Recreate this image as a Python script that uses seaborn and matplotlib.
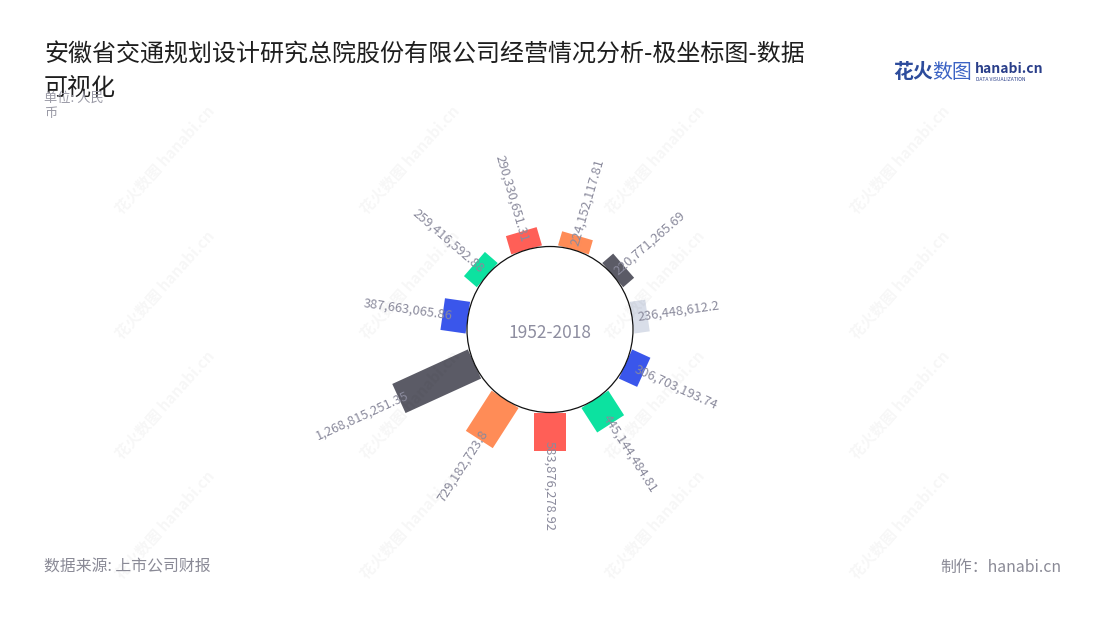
import matplotlib
matplotlib.use("Agg")
import numpy as np
import matplotlib.pyplot as plt
import seaborn as sns
from matplotlib.patches import Rectangle, Circle
from matplotlib.transforms import Affine2D

# ---------------- data ----------------
values = [224152117.81, 220771265.69, 236448612.2, 306703193.74, 445144484.81,
          583876278.92, 729182723.8, 1268815251.35, 387663065.86, 259416592.88,
          290330651.31]
value_labels = [f"{v:,}" for v in values]
bar_colors = ["#FF8C57", "#5B5B66", "#D9DEE9", "#3A56EB", "#0CE2A0",
              "#FF5F57", "#FF8C57", "#5B5B66", "#3A56EB", "#0CE2A0", "#FF5F57"]
center_label = "1952-2018"
title_line1 = "安徽省交通规划设计研究总院股份有限公司经营情况分析-极坐标图-数据"
title_line2 = "可视化"
unit_text = "单位: 人民\n币"
source_text = "数据来源: 上市公司财报"
maker_text = "制作：hanabi.cn"

# ---------------- style ----------------
sns.set_theme(style="white")
plt.rcParams["font.family"] = ["Noto Sans CJK SC", "DejaVu Sans"]
palette = sns.color_palette(bar_colors)

W, H = 1100, 620
fig = plt.figure(figsize=(W / 100, H / 100), dpi=100)
fig.patch.set_facecolor("white")

# watermarks
for wy in [160, 285, 405, 525]:
    for wx in [165, 410, 655, 900]:
        fig.text(wx / W, 1 - wy / H, "花火数图 hanabi.cn", rotation=48,
                 ha="center", va="center", fontsize=11, fontweight="bold",
                 color="#000000", alpha=0.035)

# polar-like axes in value units (1e8)
cx, cy = 550, 329.5          # centre in pixels
px_per_unit = 6.55           # pixels per 1e8
L = 36.0
S = 2 * L * px_per_unit
ax = fig.add_axes([(cx - S / 2) / W, (H - cy - S / 2) / H, S / W, S / H])
ax.set_xlim(-L, L)
ax.set_ylim(-L, L)
ax.set_aspect("equal")
ax.axis("off")

hole = 83 / px_per_unit
bar_w = 32 / px_per_unit
n = len(values)
step = 360.0 / n
label_color = "#8A8A9C"

for i, (v, lab) in enumerate(zip(values, value_labels)):
    theta = 90 - (i + 0.5) * step
    length = v / 1e8
    rect = Rectangle((hole, -bar_w / 2), length, bar_w, facecolor=palette[i],
                     edgecolor="none", zorder=2)
    rect.set_transform(Affine2D().rotate_deg(theta) + ax.transData)
    ax.add_patch(rect)
    r_lab = hole + length - 10 / px_per_unit
    t = np.deg2rad(theta)
    x, y = r_lab * np.cos(t), r_lab * np.sin(t)
    th = (theta + 180) % 360 - 180
    if -90.5 <= th <= 90:
        rot, ha = th, "left"
    else:
        rot, ha = th - 180 if th > 0 else th + 180, "right"
    ax.text(x, y, lab, rotation=rot, rotation_mode="anchor", ha=ha, va="center",
            fontsize=9.3, color=label_color, zorder=4)

ax.add_patch(Circle((0, 0), hole, facecolor="white", edgecolor="#111111",
                    linewidth=0.9, zorder=3))
ax.text(0, -0.5, center_label, ha="center", va="center", fontsize=12.5,
        color="#8E8EA0", zorder=5)

# titles
fig.text(44 / W, 1 - 55 / H, title_line1, ha="left", va="center",
         fontsize=17.3, color="#1E1E1E")
fig.text(44 / W, 1 - 88 / H, title_line2, ha="left", va="center",
         fontsize=17.3, color="#1E1E1E")
fig.text(44 / W, 1 - 106 / H, unit_text, ha="left", va="center",
         fontsize=9.5, color="#9A9AA6", linespacing=1.3)

# footer
fig.text(44 / W, 1 - 567 / H, source_text, ha="left", va="center",
         fontsize=11.4, color="#8A8A96")
fig.text(1061 / W, 1 - 567 / H, maker_text, ha="right", va="center",
         fontsize=11.4, color="#8A8A96")

# logo
fig.text(893 / W, 1 - 72 / H, "花火", ha="left", va="center", fontsize=14.3,
         fontweight="bold", color="#2D4C9C")
fig.text(932 / W, 1 - 72 / H, "数图", ha="left", va="center", fontsize=14.3,
         color="#3B63C4")
fig.text(975 / W, 1 - 69 / H, "hanabi.cn", ha="left", va="center", fontsize=10,
         fontweight="bold", color="#2A3F8A")
fig.text(976 / W, 1 - 79.5 / H, "DATA VISUALIZATION", ha="left", va="center",
         fontsize=3.6, color="#2A3F8A")

fig.savefig("out.png", dpi=100, facecolor="white")
